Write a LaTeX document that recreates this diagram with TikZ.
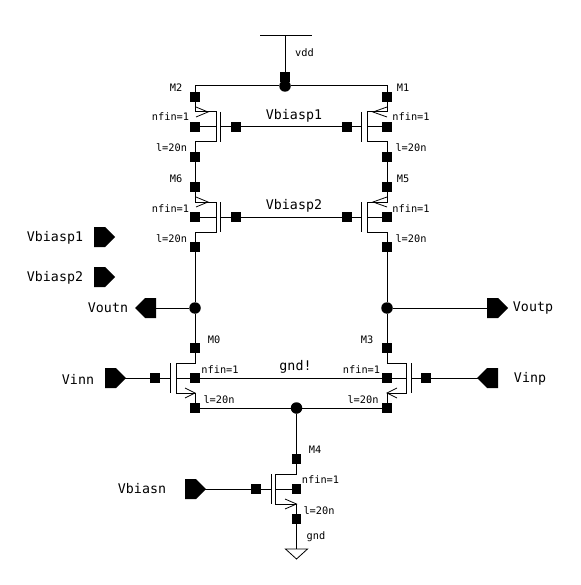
\documentclass[tikz,border=0pt]{standalone}
\usepackage{fontspec}
\setmonofont{DejaVu Sans Mono}
\newcommand{\mosfet}[6]{% name, rail x, channel x, gate x, gate pin x, top square y
  \node[term] (#1s) at (#2,#6) {};
  \node[term] (#1b) at (#2,#6+30) {};
  \node[term] (#1d) at (#2,#6+60) {};
  \node[term] (#1g) at (#5,#6+30) {};
  \coordinate (#1ct) at (#3,#6+15);
  \coordinate (#1cb) at (#3,#6+45);
  \coordinate (#1cm) at (#3,#6+30);
  \coordinate (#1gt) at (#4,#6+15);
  \coordinate (#1gb) at (#4,#6+45);
  \coordinate (#1gm) at (#4,#6+30);
  \draw[wire] (#1s) |- (#1ct) -- (#1cb) -| (#1d);
  \draw[wire] (#1gt) -- (#1gb);
  \draw[wire] (#1b) -- (#1cm);
  \draw[wire] (#1g) -- (#1gm);
}
\newcommand{\headrt}[3]{\draw[thin wire] (#3,#2-5) -- (#1,#2) -- (#3,#2+5);}
\newcommand{\pinright}[3]{% name, left x, y
  \fill (#2,#3-10) -- (#2+11,#3-10) -- (#2+21,#3) -- (#2+11,#3+10) -- (#2,#3+10) -- cycle;
  \coordinate (#1) at (#2,#3);
}
\newcommand{\pinleft}[3]{% name, right x, y
  \fill (#2,#3-10) -- (#2-11,#3-10) -- (#2-21,#3) -- (#2-11,#3+10) -- (#2,#3+10) -- cycle;
  \coordinate (#1) at (#2,#3);
}
\begin{document}
\begin{tikzpicture}[x=1pt,y=-1pt,
  wire/.style={draw=black,line width=1pt},
  thin wire/.style={draw=black,line width=0.8pt},
  term/.style={rectangle,fill=black,inner sep=0pt,minimum size=9.5pt},
  junction/.style={circle,fill=black,inner sep=0pt,minimum size=11.5pt},
  small/.style={font=\ttfamily\fontsize{10.3pt}{11pt}\selectfont,inner sep=0pt,text=black},
  big/.style={font=\ttfamily\fontsize{13.3pt}{14pt}\selectfont,inner sep=0pt,text=black}]
\fill[white] (0,0) rectangle (580,585);
\useasboundingbox (0,0) rectangle (580,585);

% supply
\coordinate (vddl) at (260,36);
\coordinate (vddr) at (312,36);
\coordinate (vddm) at (285,36);
\node[term] (vddp) at (285,77) {};
\node[junction] (top) at (285,86) {};
\draw[wire] (vddl) -- (vddr);
\draw[wire] (vddm) -- (vddp) -- (top);

% transistors
\mosfet{mtwo}{195}{216}{220}{236}{97}
\mosfet{mone}{387}{367}{361}{347}{97}
\mosfet{msix}{195}{216}{220}{236}{187}
\mosfet{mfive}{387}{367}{361}{347}{187}
\mosfet{mzero}{195}{176}{170}{155}{348}
\mosfet{mthree}{387}{406}{411}{426}{348}
\mosfet{mfour}{296.5}{275}{271}{256}{459}

\headrt{208}{112}{196}
\headrt{373}{112}{387}
\headrt{208}{202}{196}
\headrt{373}{202}{387}
\headrt{195}{393}{185}
\headrt{387}{393}{397}
\headrt{296.5}{504}{285}

% rails and vertical connections
\draw[wire] (mtwos) |- (top) -| (mones);
\draw[wire] (mtwod) -- (msixs);
\draw[wire] (moned) -- (mfives);
\draw[wire] (mtwog) -- (moneg);
\draw[wire] (msixg) -- (mfiveg);
\node[junction] (outn) at (195,308) {};
\node[junction] (outp) at (387,308) {};
\node[junction] (tail) at (296.5,408) {};
\draw[wire] (msixd) -- (outn) -- (mzeros);
\draw[wire] (mfived) -- (outp) -- (mthrees);
\draw[wire] (mzerob) -- (mthreeb);
\draw[wire] (mzerod) -- (tail) -- (mthreed);
\draw[wire] (tail) -- (mfours);

% ground symbol
\coordinate (gnda) at (285.5,549);
\coordinate (gndb) at (307.5,549);
\coordinate (gndc) at (296.5,559);
\coordinate (gndt) at (296.5,549);
\draw[wire] (mfourd) -- (gndt);
\draw[thin wire] (gnda) -- (gndb) -- (gndc) -- cycle;

% pins
\pinright{pvone}{94}{237}
\pinright{pvtwo}{94}{277}
\pinleft{pvoutn}{156}{308}
\pinright{pvoutp}{487}{308}
\pinright{pvinn}{105}{378}
\pinleft{pvinp}{498}{378}
\pinright{pvbn}{185}{489}
\draw[wire] (pvoutn) -- (outn);
\draw[wire] (outp) -- (pvoutp);
\draw[wire] (pvinn) -- (mzerog);
\draw[wire] (mthreeg) -- (pvinp);
\draw[wire] (pvbn) -- (mfourg);

% labels
\node[small] (tvdd) at (304.5,53) {vdd};
\node[small] (tm2) at (176,88) {M2};
\node[small] (tm1) at (403,88) {M1};
\node[small] (tn2) at (170.5,117) {nfin=1};
\node[small] (tn1) at (411,117) {nfin=1};
\node[small] (tl2) at (171.5,148) {l=20n};
\node[small] (tl1) at (411,148) {l=20n};
\node[big] (tvb1) at (294,116) {Vbiasp1};
\node[small] (tm6) at (176,179) {M6};
\node[small] (tm5) at (403,179) {M5};
\node[small] (tn6) at (170.5,209) {nfin=1};
\node[small] (tn5) at (411,209) {nfin=1};
\node[small] (tl6) at (171.5,239) {l=20n};
\node[small] (tl5) at (411,239) {l=20n};
\node[big] (tvb2) at (294,206) {Vbiasp2};
\node[big] (tp1) at (55,238) {Vbiasp1};
\node[big] (tp2) at (55,278) {Vbiasp2};
\node[big] (toutn) at (108,308) {Voutn};
\node[big] (toutp) at (533,308) {Voutp};
\node[big] (tinn) at (78,379) {Vinn};
\node[big] (tinp) at (530,379) {Vinp};
\node[big] (tbn) at (142,489) {Vbiasn};
\node[small] (tm0) at (214,340) {M0};
\node[small] (tm3) at (367,340) {M3};
\node[small] (tn0) at (220,370) {nfin=1};
\node[small] (tn3) at (361.5,370) {nfin=1};
\node[big] (tgnd) at (295.5,367) {gnd!};
\node[small] (tl0) at (219,400) {l=20n};
\node[small] (tl3) at (363,400) {l=20n};
\node[small] (tm4) at (315,450) {M4};
\node[small] (tn4) at (320.5,480) {nfin=1};
\node[small] (tl4) at (319,511) {l=20n};
\node[small] (tgn) at (316,537) {gnd};
\end{tikzpicture}
\end{document}
